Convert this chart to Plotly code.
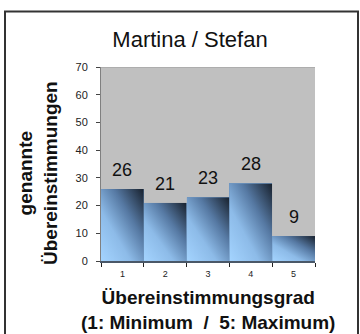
import base64
import plotly.graph_objects as go

categories = ["1", "2", "3", "4", "5"]
values = [26, 21, 23, 28, 9]
y_ticks = [0, 10, 20, 30, 40, 50, 60, 70]

title_text = "Martina / Stefan"
x_title = "Übereinstimmungsgrad<br>(1: Minimum  /  5: Maximum)"
y_title = "genannte<br>Übereinstimmungen"

svg = (
    "<svg xmlns='http://www.w3.org/2000/svg' width='100' height='100' preserveAspectRatio='none'>"
    "<defs><linearGradient id='g' x1='0' y1='1' x2='1' y2='0'>"
    "<stop offset='0' stop-color='#a4d4ff'/>"
    "<stop offset='0.35' stop-color='#8dbbe8'/>"
    "<stop offset='0.65' stop-color='#5679a3'/>"
    "<stop offset='1' stop-color='#17202c'/>"
    "</linearGradient></defs>"
    "<rect width='100' height='100' fill='url(#g)'/></svg>"
)
src = "data:image/svg+xml;base64," + base64.b64encode(svg.encode()).decode()

FONT = "Liberation Sans, Arial"
PW, PH = 214, 194  # plot area size in px
L, B = 101, 73

fig = go.Figure()
fig.add_trace(go.Bar(
    x=categories, y=values,
    marker=dict(color="#6f96c0", line=dict(width=0)),
    hoverinfo="skip",
))

images = []
for i, v in enumerate(values):
    images.append(dict(
        source=src, xref="x", yref="y",
        x=i - 0.5, y=v, sizex=1, sizey=v,
        xanchor="left", yanchor="top",
        sizing="stretch", layer="above",
    ))

annotations = []
for i, v in enumerate(values):
    annotations.append(dict(
        x=i, y=v, xref="x", yref="y", text=str(v), showarrow=False,
        yanchor="bottom", yshift=7,
        font=dict(family=FONT, size=18, color="#111111"),
    ))

# axis titles as annotations for precise placement
annotations.append(dict(
    text=x_title, xref="paper", yref="paper",
    x=(208 - L) / PW, y=(261 - 310) / PH, xanchor="center", yanchor="middle",
    showarrow=False, align="center",
    font=dict(family=FONT, size=19, color="#111111", weight="bold"),
))
annotations.append(dict(
    text=y_title, xref="paper", yref="paper", textangle=-90,
    x=(38 - L) / PW, y=(261 - 173) / PH, xanchor="center", yanchor="middle",
    showarrow=False, align="center",
    font=dict(family=FONT, size=19, color="#111111", weight="bold"),
))

fig.update_layout(
    width=360, height=334,
    margin=dict(l=101, r=45, t=67, b=73, pad=0),
    paper_bgcolor="white",
    plot_bgcolor="#c0c0c0",
    bargap=0,
    showlegend=False,
    images=images,
    annotations=annotations,
    title=dict(
        text=title_text, x=190 / 360, xref="container", xanchor="center",
        y=1 - 39 / 334, yref="container", yanchor="middle",
        font=dict(family=FONT, size=22, color="#111111"),
    ),
    font=dict(family=FONT, color="#111111"),
    shapes=[
        dict(type="line", xref="paper", yref="y", x0=0, x1=1, y0=70, y1=70,
             line=dict(color="#999999", width=1), layer="below"),
        dict(type="rect", xref="paper", yref="paper",
             x0=(5 - L) / PW, x1=(358 - L) / PW,
             y0=(261 - 338) / PH, y1=(261 - 11.5) / PH,
             line=dict(color="#333333", width=2), fillcolor="rgba(0,0,0,0)"),
    ],
)

fig.update_xaxes(
    type="category", tickson="boundaries", range=[-0.5, 4.5],
    ticks="outside", ticklen=4, tickcolor="#222222",
    ticklabelstandoff=3,
    showline=True, linecolor="#4a5868", linewidth=2,
    showgrid=False,
    tickfont=dict(size=9, color="#222222"),
)
fig.update_yaxes(
    range=[0, 70], tickvals=y_ticks,
    ticks="outside", ticklen=4, tickcolor="#444444",
    ticklabelstandoff=6,
    showline=True, linecolor="#808080", linewidth=1,
    showgrid=False, zeroline=False,
    tickfont=dict(size=11, color="#222222"),
)

fig.write_html("out.html")
